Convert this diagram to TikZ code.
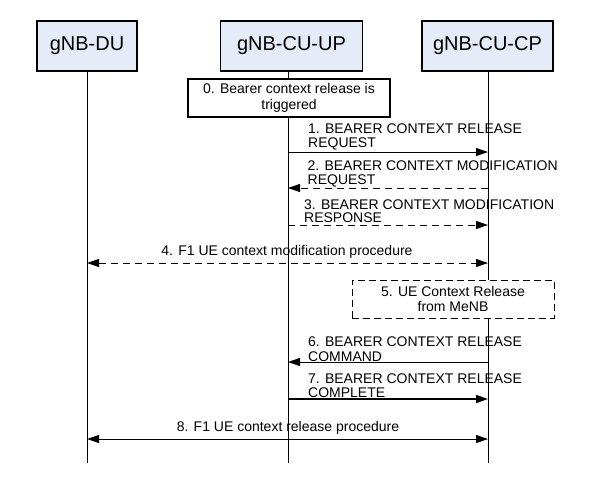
\documentclass[tikz,border=0pt]{standalone}
\usepackage{fontspec}
\setmainfont{Liberation Sans}
\usetikzlibrary{arrows.meta}
\definecolor{hdrblue}{RGB}{230,236,247}
\begin{document}
\begin{tikzpicture}
    [x=1pt,y=-1pt,%%%%%%%%%%%%%%%%%%%%%%%%%%%%%%
        entity/.style={rectangle,draw=black,line width=1.4pt,fill=hdrblue,minimum height=50pt,font=\fontsize{20}{24}\selectfont},
        action/.style={rectangle,draw=black,line width=1.2pt,fill=white,minimum width=202pt,minimum height=38pt,align=center,font=\fontsize{14}{15.5}\selectfont},
        actiondash/.style={action,line width=0.9pt,dash pattern=on 7pt off 4pt},
        life/.style={line width=0.9pt},
        msg/.style={line width=0.9pt,-{Triangle[length=12pt,width=8pt]}},
        msgdash/.style={msg,dash pattern=on 7pt off 5pt},
        msglabel/.style={anchor=south west,inner sep=0pt,align=left,font=\fontsize{14}{13.5}\selectfont},
        proclabel/.style={anchor=base,inner sep=0pt,font=\fontsize{14}{16}\selectfont},
    ]%%%%%%%%%%%%%%%%%%%%%%%%%%%%%%
\useasboundingbox (0,0) rectangle (607,483);

% entities
\node[entity, minimum width=100pt] (du) at (87,46) {gNB-DU};
\node[entity, minimum width=142pt] (up) at (291.5,46) {gNB-CU-UP};
\node[entity, minimum width=131pt] (cp) at (487.5,46) {gNB-CU-CP};

% lifelines
\coordinate (du-end) at (87,463);
\coordinate (up-end) at (288,463);
\coordinate (cp-end) at (488,463);
\draw[life] (du.south) -- (du-end);
\draw[life] (up.south -| up-end) -- (up-end);
\draw[life] (cp.south -| cp-end) -- (cp-end);

% message levels
\coordinate (y1) at (0,152);
\coordinate (y2) at (0,188);
\coordinate (y3) at (0,225);
\coordinate (y4) at (0,263);
\coordinate (y6) at (0,362);
\coordinate (y7) at (0,399);
\coordinate (y8) at (0,439);

% 0 and 5
\node[action] (trig) at (289,98) {0. Bearer context release is\\triggered};
\node[actiondash] (menb) at (453,299) {5. UE Context Release\\from MeNB};

% messages
\node[msglabel] (t1) at (308,150) {1. BEARER CONTEXT RELEASE\\REQUEST};
\draw[msg] (up-end |- y1) -- (cp-end |- y1);

\node[msglabel] (t2) at (307.5,187) {2. BEARER CONTEXT MODIFICATION\\REQUEST};
\draw[msgdash] (cp-end |- y2) -- (up-end |- y2);

\node[msglabel] (t3) at (304,223) {3. BEARER CONTEXT MODIFICATION\\RESPONSE};
\draw[msgdash] (up-end |- y3) -- (cp-end |- y3);

\node[proclabel] (t4) at (287,255) {4. F1 UE context modification procedure};
\draw[msgdash,{Triangle[length=12pt,width=8pt]}-{Triangle[length=12pt,width=8pt]}] (du-end |- y4) -- (cp-end |- y4);

\node[msglabel] (t6) at (308,362) {6. BEARER CONTEXT RELEASE\\[2pt]COMMAND};
\draw[msg] (cp-end |- y6) -- (up-end |- y6);

\node[msglabel] (t7) at (308,397.5) {7. BEARER CONTEXT RELEASE\\COMPLETE};
\draw[msg,line width=1.8pt] (up-end |- y7) -- (cp-end |- y7);

\node[proclabel] (t8) at (288,431.5) {8. F1 UE context release procedure};
\draw[msg,{Triangle[length=12pt,width=8pt]}-{Triangle[length=12pt,width=8pt]}] (du-end |- y8) -- (cp-end |- y8);

\end{tikzpicture}
\end{document}
